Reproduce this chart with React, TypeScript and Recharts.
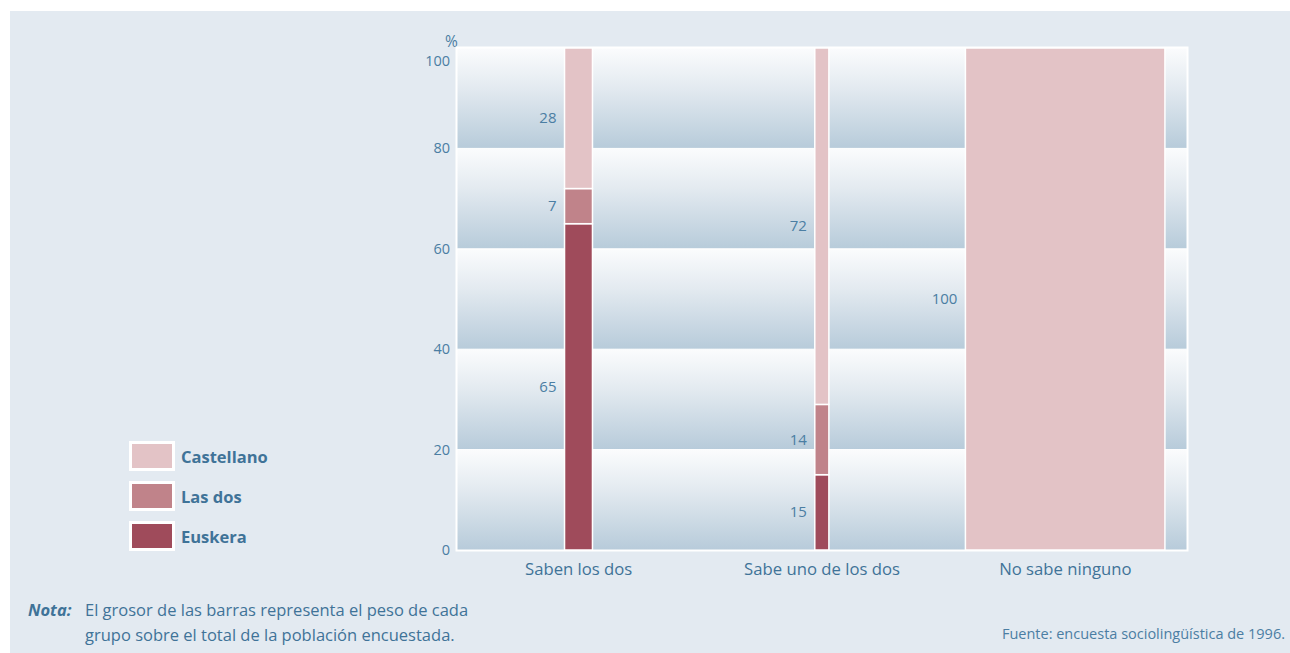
import React from 'react';
import { BarChart, Bar, XAxis, YAxis, ReferenceArea } from 'recharts';

const categorias = ['Saben los dos', 'Sabe uno de los dos', 'No sabe ninguno'];
// grosor de cada barra (% del ancho de su categoría)
const peso = [11.5, 5.8, 82.1];
const euskera = [65, 15, 0];
const lasDos = [7, 14, 0];
const castellano = [28, 72, 100];
const yTicks = [0, 20, 40, 60, 80, 100];

const series = [
  { key: 'euskera', name: 'Euskera', color: '#9f4b5b' },
  { key: 'lasDos', name: 'Las dos', color: '#c0838a' },
  { key: 'castellano', name: 'Castellano', color: '#e3c3c6' },
];

const data = categorias.map((c, i) => ({
  categoria: c,
  peso: peso[i],
  euskera: euskera[i],
  lasDos: lasDos[i],
  castellano: castellano[i],
}));

const bandas = yTicks.slice(0, -1).map((t, i) => [t, yTicks[i + 1]]);

const TICK_COLOR = '#4b7ea3';
const TEXT_COLOR = '#3f7398';

const ThinBar = (props: any) => {
  const { x, y, width, height, fill, payload } = props;
  if (!height || height <= 0) return null;
  const w = (width * payload.peso) / 100;
  return (
    <rect x={x + width / 2 - w / 2} y={y} width={w} height={height} fill={fill} stroke="#fff" strokeWidth={1.5} />
  );
};

const valueLabel = (key: string) => (props: any) => {
  const vb = props.viewBox || {};
  const x = props.x ?? vb.x;
  const y = props.y ?? vb.y;
  const width = props.width ?? vb.width;
  const height = props.height ?? vb.height;
  const { index } = props;
  const value = (data[index] as any)[key];
  if (!value) return null;
  const w = (width * peso[index]) / 100;
  const left = x + width / 2 - w / 2;
  return (
    <text key={key + index} x={left - 8} y={y + height / 2} dy={5} textAnchor="end" fill={TICK_COLOR} fontSize={15}>
      {value}
    </text>
  );
};

const YTick = (props: any) => {
  const { x, y, payload } = props;
  return (
    <text x={x} y={y + (payload.value === 100 ? 13 : 0)} dy={5} textAnchor="end" fill={TICK_COLOR} fontSize={14.5}>
      {payload.value}
    </text>
  );
};

export default function App() {
  return (
    <div
      style={{
        position: 'absolute',
        left: 10,
        top: 11,
        width: 1280,
        height: 642,
        background: '#e3eaf1',
        fontFamily: '"Open Sans", sans-serif',
      }}
    >
      <div style={{ position: 'absolute', left: 435, top: 19, fontSize: 15.5, color: TICK_COLOR }}>%</div>
      <BarChart
        width={1280}
        height={600}
        data={data}
        margin={{ top: 37, right: 103, left: 387, bottom: 31 }}
        barCategoryGap={0}
      >
        <defs>
          <linearGradient id="banda" x1="0" y1="0" x2="0" y2="1">
            <stop offset="0%" stopColor="#fbfcfd" />
            <stop offset="40%" stopColor="#e3eaf0" />
            <stop offset="100%" stopColor="#b7cbda" />
          </linearGradient>
        </defs>
        <XAxis
          dataKey="categoria"
          tickLine={false}
          axisLine={false}
          tickSize={0}
          tickMargin={13}
          height={30}
          tick={{ fill: TEXT_COLOR, fontSize: 16.7 }}
        />
        <YAxis
          width={60}
          domain={[0, 100]}
          ticks={yTicks}
          allowDataOverflow
          tickLine={false}
          axisLine={false}
          tickSize={0}
          tickMargin={7}
          tick={<YTick />}
        />
        <ReferenceArea y1={0} y2={100} fill="#fff" stroke="#fff" strokeWidth={3} fillOpacity={1} />
        {bandas.map(([a, b]) => (
          <ReferenceArea key={a} y1={a} y2={b} fill="url(#banda)" fillOpacity={1} stroke="#fff" strokeWidth={1} />
        ))}
        {series.map((s) => (
          <Bar
            key={s.key}
            dataKey={s.key}
            name={s.name}
            stackId="a"
            fill={s.color}
            shape={<ThinBar />}
            label={valueLabel(s.key)}
            isAnimationActive={false}
          />
        ))}
      </BarChart>
      <div style={{ position: 'absolute', left: 119, top: 425 }}>
        {[...series].reverse().map((s) => (
          <div key={s.key} style={{ display: 'flex', alignItems: 'center', height: 40 }}>
            <div style={{ width: 40, height: 24, background: s.color, border: '3px solid #fff' }} />
            <span style={{ marginLeft: 6, color: TEXT_COLOR, fontWeight: 700, fontSize: 16.5 }}>{s.name}</span>
          </div>
        ))}
      </div>
      <div style={{ position: 'absolute', left: 18, top: 586, fontSize: 16.5, color: TEXT_COLOR, lineHeight: '25px', display: 'flex' }}>
        <span style={{ fontWeight: 700, fontStyle: 'italic', width: 57 }}>Nota:</span>
        <span>
          El grosor de las barras representa el peso de cada
          <br />
          grupo sobre el total de la población encuestada.
        </span>
      </div>
      <div style={{ position: 'absolute', right: 5, top: 613, fontSize: 14.5, color: TICK_COLOR }}>
        Fuente: encuesta sociolingüística de 1996.
      </div>
    </div>
  );
}
